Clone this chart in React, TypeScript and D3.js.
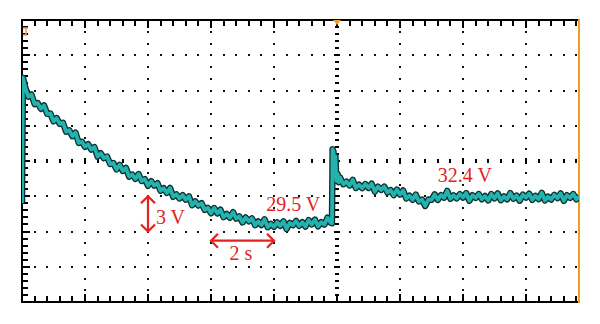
import React from "react";
import * as d3 from "d3";

// ---- scope settings ----
const SEC_PER_DIV = 2;
const VOLT_PER_DIV = 3;
const CENTER_VOLT = 35.5;
const H_DIVS = 10;
const V_DIVS = 8;

// ---- trace samples: time (s), voltage (V) ----
const traceTime = [
  0.0, 0.03, 0.1, 0.2, 0.3, 0.4, 0.5, 0.6, 0.7, 0.8, 0.9, 1.0, 1.1, 1.2, 1.3, 1.4, 1.5, 1.6, 1.7, 1.8, 1.9,
  2.0, 2.1, 2.2, 2.3, 2.4, 2.5, 2.6, 2.7, 2.8, 2.9, 3.0, 3.1, 3.2, 3.3, 3.4, 3.5, 3.6, 3.7, 3.8, 3.9,
  4.0, 4.1, 4.2, 4.3, 4.4, 4.5, 4.6, 4.7, 4.8, 4.9, 5.0, 5.1, 5.2, 5.3, 5.4, 5.5, 5.6, 5.7, 5.8, 5.9,
  6.0, 6.1, 6.2, 6.3, 6.4, 6.5, 6.6, 6.7, 6.8, 6.9, 7.0, 7.1, 7.2, 7.3, 7.4, 7.5, 7.6, 7.7, 7.8, 7.9,
  8.0, 8.1, 8.2, 8.3, 8.4, 8.5, 8.6, 8.7, 8.8, 8.9, 9.0, 9.1, 9.2, 9.3, 9.4, 9.5, 9.6, 9.7, 9.8,
  9.84, 9.86, 9.89, 9.92, 9.95, 9.98, 10.02, 10.06,
  10.1, 10.2, 10.3, 10.4, 10.5, 10.6, 10.7, 10.8, 10.9, 11.0, 11.1, 11.2, 11.3, 11.4, 11.5, 11.6, 11.7, 11.8, 11.9,
  12.0, 12.1, 12.2, 12.3, 12.4, 12.5, 12.6, 12.7, 12.8, 12.9, 13.0, 13.1, 13.2, 13.3, 13.4, 13.5, 13.6, 13.7, 13.8, 13.9,
  14.0, 14.1, 14.2, 14.3, 14.4, 14.5, 14.6, 14.7, 14.8, 14.9, 15.0, 15.1, 15.2, 15.3, 15.4, 15.5, 15.6, 15.7, 15.8, 15.9,
  16.0, 16.1, 16.2, 16.3, 16.4, 16.5, 16.6, 16.7, 16.8, 16.9, 17.0, 17.1, 17.2, 17.3, 17.4, 17.5, 17.6, 17.7,
];
const traceVolt = [
  31.9, 42.6, 41.8, 40.98, 41.16, 40.34, 40.43, 39.94, 40.23, 39.51, 39.54, 38.87, 39.15, 38.66, 38.76, 37.99, 38.12, 37.61, 37.92, 37.04, 37.14,
  36.71, 36.93, 36.47, 36.68, 35.87, 36.16, 35.74, 35.88, 35.24, 35.33, 34.78, 35.17, 34.65, 34.91, 34.17, 34.35, 33.98, 34.39, 33.8, 33.95,
  33.39, 33.78, 33.41, 33.61, 32.96, 33.18, 32.78, 33.21, 32.45, 32.66, 32.31, 32.6, 32.21, 32.49, 31.73, 32.07, 31.71, 31.91, 31.34, 31.52,
  31.05, 31.5, 31.04, 31.36, 30.72, 30.99, 30.67, 31.14, 30.6, 30.79, 30.27, 30.7, 30.37, 30.62, 30.04, 30.36, 30.05, 30.54, 29.86, 30.15,
  29.9, 30.28, 29.98, 30.37, 29.72, 30.23, 30.03, 30.4, 29.98, 30.29, 29.92, 30.47, 30.1, 30.52, 29.94, 30.29, 30.09, 30.68, 30.24,
  30.2, 36.5, 36.3, 34.2, 35.9, 33.8, 34.4, 33.7,
  34.08, 33.52, 33.75, 33.42, 33.9, 33.2, 33.48, 33.19, 33.54, 33.21, 33.57, 32.89, 33.32, 33.04, 33.32, 32.82, 33.03, 32.59, 33.07,
  32.64, 32.99, 32.31, 32.55, 32.2, 32.64, 32.06, 32.22, 31.67, 32.22, 32.19, 32.66, 32.19, 32.6, 32.38, 32.96, 32.28, 32.58, 32.32, 32.69,
  32.39, 32.77, 32.11, 32.59, 32.36, 32.69, 32.24, 32.52, 32.14, 32.69, 32.32, 32.74, 32.16, 32.49, 32.24, 32.77, 32.29, 32.56, 32.12, 32.64,
  32.39, 32.72, 32.19, 32.54, 32.26, 32.79, 32.14, 32.46, 32.22, 32.62, 32.34, 32.74, 32.11, 32.59, 32.36, 32.69, 32.24, 32.5,
];

// ---- annotations ----
const labelTexts = ["3 V", "29.5 V", "32.4 V", "2 s"];
const labelTime = [4.25, 7.75, 13.2, 6.95];
const labelVolt = [30.14, 31.27, 33.71, 27.07];
const labelAnchor = ["start", "start", "start", "middle"];

const W = 600;
const H = 324;
const LEFT = 22;
const TOP = 20;
const RIGHT = 579;
const BOTTOM = 302;
const DIV_W = 63;

export default function App() {
  const x = d3
    .scaleLinear()
    .domain([0, H_DIVS * SEC_PER_DIV])
    .range([LEFT, LEFT + H_DIVS * DIV_W]);
  const y = d3
    .scaleLinear()
    .domain([CENTER_VOLT - (V_DIVS / 2) * VOLT_PER_DIV, CENTER_VOLT + (V_DIVS / 2) * VOLT_PER_DIV])
    .range([BOTTOM, TOP]);

  const data = traceTime.map((t, i) => ({ t, v: traceVolt[i] }));
  const line = d3
    .line<{ t: number; v: number }>()
    .x((d) => x(d.t))
    .y((d) => y(d.v));
  const pathD = line(data) || "";

  const red = "#e5211d";
  const cy = Math.round(y(CENTER_VOLT));
  const cx = Math.round(x((H_DIVS / 2) * SEC_PER_DIV));
  const vMin = y.domain()[0];
  const vMax = y.domain()[1];

  const majorT = d3.range(1, H_DIVS).map((i) => i * SEC_PER_DIV).filter((t) => x(t) < RIGHT - 2);
  const majorV = d3.range(1, V_DIVS).map((i) => vMin + i * VOLT_PER_DIV);
  const minorT = d3.range(0, H_DIVS * 5 + 1).map((i) => (i * SEC_PER_DIV) / 5).filter((t) => x(t) <= RIGHT);
  const minorV = d3.range(0, V_DIVS * 5 + 1).map((i) => vMin + (i * VOLT_PER_DIV) / 5);
  const thirdV = d3.range(0, V_DIVS * 3 + 1).map((i) => vMin + (i * VOLT_PER_DIV) / 3);

  const dotPath = d3.path();
  const addDot = (px: number, py: number) => dotPath.rect(Math.round(px) - 1, Math.round(py) - 1, 2, 2);
  majorV.forEach((v) => {
    if (Math.abs(v - CENTER_VOLT) < 1e-6) return;
    minorT.forEach((t) => {
      if (t > 0) addDot(x(t), y(v));
    });
  });
  majorT.forEach((t) => {
    if (Math.abs(t - (H_DIVS / 2) * SEC_PER_DIV) < 1e-6) return;
    thirdV.forEach((v) => {
      if (v > vMin && v < vMax) addDot(x(t), y(v));
    });
  });

  const tickPath = d3.path();
  minorT.forEach((t, i) => {
    const major = i % 5 === 0;
    const len = major ? 8 : 6;
    const X = Math.round(x(t));
    tickPath.rect(X - 1, TOP, 2, len);
    tickPath.rect(X - 1, BOTTOM - len, 2, len);
    if (t > 0) tickPath.rect(X - 1, cy - (major ? 3 : 2), 2, major ? 6 : 4);
  });
  minorV.forEach((v, i) => {
    const major = i % 5 === 0;
    const len = major ? 8 : 6;
    const Y = Math.round(y(v));
    tickPath.rect(LEFT, Y - 1, len, 2);
    if (v > vMin && v < vMax) tickPath.rect(cx - (major ? 3 : 2), Y - 1, major ? 6 : 4, 2);
  });

  const arrowHead = (px: number, py: number, dx: number, dy: number, key: string) => {
    const s = 7;
    const nx = -dy;
    const ny = dx;
    return (
      <polyline
        key={key}
        points={`${px - dx * s + nx * s},${py - dy * s + ny * s} ${px},${py} ${px - dx * s - nx * s},${py - dy * s - ny * s}`}
        fill="none"
        stroke={red}
        strokeWidth={2.2}
      />
    );
  };

  const vArrowX = x(4);
  const vTop = y(32.5);
  const vBot = y(29.5);
  const hArrowY = y(28.72);
  const hL = x(6);
  const hR = x(8);

  return (
    <svg width={W} height={H} style={{ position: "absolute", left: 0, top: 0, background: "#fff" }}>
      <defs>
        <clipPath id="plot">
          <rect x={LEFT} y={TOP} width={RIGHT - LEFT} height={BOTTOM - TOP} />
        </clipPath>
      </defs>
      <rect x={0} y={0} width={W} height={H} fill="#fff" />
      <path d={dotPath.toString()} fill="#111" />
      <path d={tickPath.toString()} fill="#000" />
      <rect x={LEFT - 1} y={TOP - 1} width={RIGHT - LEFT + 1} height={2} fill="#000" />
      <rect x={LEFT - 1} y={BOTTOM - 1} width={RIGHT - LEFT + 1} height={2} fill="#000" />
      <rect x={LEFT - 1} y={TOP - 1} width={2} height={BOTTOM - TOP + 2} fill="#000" />
      <rect x={RIGHT - 1} y={TOP - 1} width={2} height={BOTTOM - TOP + 2} fill="#f0a020" />
      <path d={`M${cx - 4},${TOP} L${cx + 4},${TOP} L${cx},${TOP + 5} Z`} fill="#f0a020" />
      <path
        d={`M${LEFT + 1},${TOP + 8} L${LEFT + 6},${TOP + 8} M${LEFT + 4},${TOP + 8} L${LEFT + 4},${TOP + 15} L${LEFT + 1},${TOP + 15}`}
        fill="none"
        stroke="#e8a060"
        strokeWidth={1.6}
      />
      <g clipPath="url(#plot)">
        <path d={pathD} fill="none" stroke="#0c2f2f" strokeWidth={6.4} strokeLinejoin="round" />
        <path d={pathD} fill="none" stroke="#24b2ae" strokeWidth={3.8} strokeLinejoin="round" />
      </g>
      <line x1={vArrowX} x2={vArrowX} y1={vTop} y2={vBot} stroke={red} strokeWidth={2.2} />
      {arrowHead(vArrowX, vTop, 0, -1, "a1")}
      {arrowHead(vArrowX, vBot, 0, 1, "a2")}
      <line x1={hL} x2={hR} y1={hArrowY} y2={hArrowY} stroke={red} strokeWidth={2.2} />
      {arrowHead(hL, hArrowY, -1, 0, "a3")}
      {arrowHead(hR, hArrowY, 1, 0, "a4")}
      {labelTexts.map((s, i) => (
        <text
          key={s}
          x={x(labelTime[i])}
          y={y(labelVolt[i])}
          textAnchor={labelAnchor[i] as any}
          fontFamily="Liberation Serif, serif"
          fontSize={20}
          fill={red}
        >
          {s}
        </text>
      ))}
    </svg>
  );
}
